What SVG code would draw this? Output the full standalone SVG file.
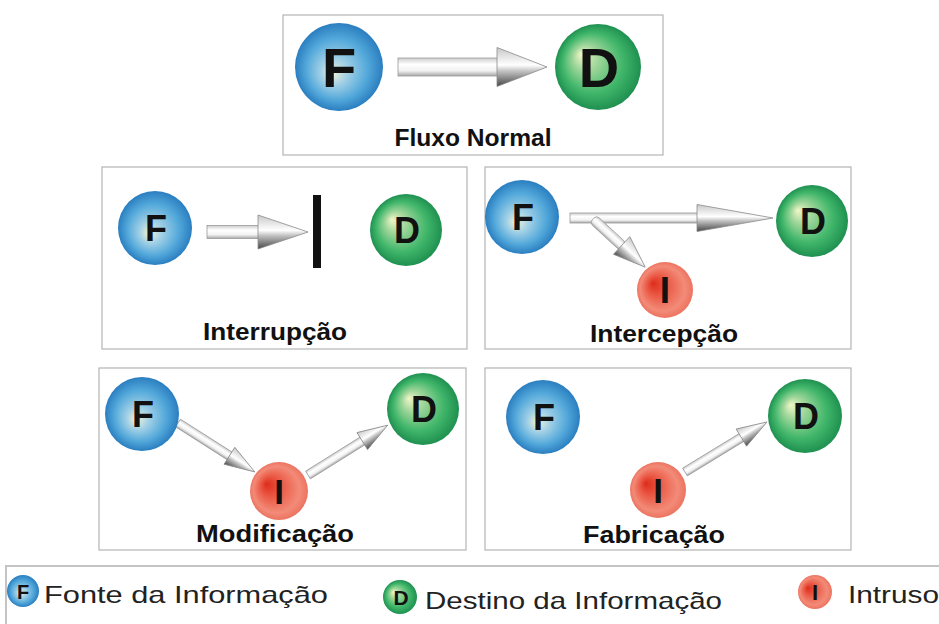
<svg xmlns="http://www.w3.org/2000/svg" width="939" height="624" viewBox="0 0 939 624">
<defs>
<radialGradient id="gBlue" cx="0.5" cy="0.5" r="0.5" fx="0.42" fy="0.58">
<stop offset="0" stop-color="#f2f2d6"/>
<stop offset="0.3" stop-color="#a2d0e6"/>
<stop offset="0.7" stop-color="#52a8da"/>
<stop offset="1" stop-color="#2a7ec0"/>
</radialGradient>
<radialGradient id="gGreen" cx="0.5" cy="0.5" r="0.5" fx="0.3" fy="0.35">
<stop offset="0" stop-color="#f0f5c8"/>
<stop offset="0.3" stop-color="#9fd69a"/>
<stop offset="0.7" stop-color="#40b66a"/>
<stop offset="1" stop-color="#1f9050"/>
</radialGradient>
<radialGradient id="gRed" cx="0.5" cy="0.5" r="0.5" fx="0.28" fy="0.38">
<stop offset="0" stop-color="#de2c1c"/>
<stop offset="0.35" stop-color="#ea5844"/>
<stop offset="0.8" stop-color="#f28b78"/>
<stop offset="1" stop-color="#ec7360"/>
</radialGradient>
<linearGradient id="gShaft" x1="0" y1="0" x2="0" y2="1">
<stop offset="0" stop-color="#cdcdcd"/>
<stop offset="0.35" stop-color="#ffffff"/>
<stop offset="0.7" stop-color="#f2f2f2"/>
<stop offset="1" stop-color="#a8a8a8"/>
</linearGradient>
<linearGradient id="gHead" x1="0" y1="0" x2="0" y2="1">
<stop offset="0" stop-color="#c8c8c8"/>
<stop offset="0.45" stop-color="#ffffff"/>
<stop offset="0.6" stop-color="#c4c4c4"/>
<stop offset="1" stop-color="#474747"/>
</linearGradient>
<style>
.panel{fill:#ffffff;stroke:#b4b4b4;stroke-width:1.2}
.lbl{font-family:"Liberation Sans",Arial,sans-serif;font-weight:bold;font-size:23px;fill:#111;text-anchor:middle}
.leg{font-family:"Liberation Sans",Arial,sans-serif;font-size:24px;fill:#222}
.ltr{font-family:"Liberation Sans",Arial,sans-serif;font-weight:bold;fill:#111;text-anchor:middle}
.sh{fill:url(#gShaft);stroke:#9a9a9a;stroke-width:0.8}
.hd{fill:url(#gHead);stroke:#8a8a8a;stroke-width:0.8}
.f{fill:url(#gBlue)}
.d{fill:url(#gGreen)}
.i{fill:url(#gRed)}
</style>
</defs>
<rect width="939" height="624" fill="#ffffff"/>

<g id="panel-fluxo-normal">
<rect class="panel" x="283" y="15" width="380" height="140"/>
<text class="lbl" x="473" y="146" textLength="157" lengthAdjust="spacingAndGlyphs">Fluxo Normal</text>
</g>
<g id="panel-interrupcao">
<rect class="panel" x="102" y="167" width="365" height="182"/>
<text class="lbl" x="275" y="340" textLength="144" lengthAdjust="spacingAndGlyphs">Interrupção</text>
</g>
<g id="panel-intercepcao">
<rect class="panel" x="485" y="167" width="366" height="182"/>
<text class="lbl" x="664" y="342" textLength="148" lengthAdjust="spacingAndGlyphs">Intercepção</text>
</g>
<g id="panel-modificacao">
<rect class="panel" x="99" y="368" width="367" height="182"/>
<text class="lbl" x="275" y="542" textLength="158" lengthAdjust="spacingAndGlyphs">Modificação</text>
</g>
<g id="panel-fabricacao">
<rect class="panel" x="485" y="368" width="366" height="182"/>
<text class="lbl" x="654" y="543" textLength="142" lengthAdjust="spacingAndGlyphs">Fabricação</text>
</g>

<g id="connectors">
<g transform="translate(398,67)">
<rect class="sh" x="0" y="-9" width="101" height="18"/>
<path class="hd" d="M99,-19.5 L149,0 L99,19.5 Z"/>
</g>
<g transform="translate(207,232)">
<rect class="sh" x="0" y="-6.5" width="53" height="13"/>
<path class="hd" d="M51,-17 L101,0 L51,17 Z"/>
</g>
<rect id="block-bar" x="313" y="195" width="8" height="73" fill="#111"/>
<g transform="translate(570,218)">
<rect class="sh" x="0" y="-5" width="129" height="10"/>
<path class="hd" d="M127,-13.5 L203,0 L127,13.5 Z"/>
</g>
<g transform="translate(593,219) rotate(42.7)">
<rect class="sh" x="0" y="-5" width="41" height="10" rx="4"/>
<path class="hd" d="M39,-12 L71,0 L39,12 Z"/>
</g>
<g transform="translate(178,423) rotate(32.5)">
<rect class="sh" x="0" y="-4.5" width="63" height="9"/>
<path class="hd" d="M61,-10 L91,0 L61,10 Z"/>
</g>
<g transform="translate(308,475) rotate(-32)">
<rect class="sh" x="0" y="-4.5" width="66" height="9"/>
<path class="hd" d="M64,-10 L94,0 L64,10 Z"/>
</g>
<g transform="translate(685,472) rotate(-31.4)">
<rect class="sh" x="0" y="-4.5" width="68" height="9"/>
<path class="hd" d="M66,-10 L96,0 L66,10 Z"/>
</g>
</g>

<g id="fn-F">
<circle class="f" cx="339" cy="67" r="44"/>
<text class="ltr" x="339" y="87" font-size="56">F</text>
</g>
<g id="fn-D">
<circle class="d" cx="598" cy="67" r="43"/>
<text class="ltr" x="599" y="87" font-size="56">D</text>
</g>

<g id="int-F">
<circle class="f" cx="155" cy="228" r="37"/>
<text class="ltr" x="156" y="241" font-size="36">F</text>
</g>
<g id="int-D">
<circle class="d" cx="406" cy="230" r="36"/>
<text class="ltr" x="407" y="243" font-size="36">D</text>
</g>

<g id="icp-F">
<circle class="f" cx="522" cy="217" r="37"/>
<text class="ltr" x="523" y="230" font-size="36">F</text>
</g>
<g id="icp-D">
<circle class="d" cx="812" cy="221" r="36"/>
<text class="ltr" x="813" y="234" font-size="36">D</text>
</g>
<g id="icp-I">
<circle class="i" cx="665" cy="290" r="28"/>
<text class="ltr" x="665" y="303" font-size="37">I</text>
</g>

<g id="mod-F">
<circle class="f" cx="142" cy="414" r="37"/>
<text class="ltr" x="143" y="427" font-size="36">F</text>
</g>
<g id="mod-D">
<circle class="d" cx="423" cy="409" r="36"/>
<text class="ltr" x="424" y="422" font-size="36">D</text>
</g>
<g id="mod-I">
<circle class="i" cx="279" cy="491" r="29"/>
<text class="ltr" x="279" y="504" font-size="35">I</text>
</g>

<g id="fab-F">
<circle class="f" cx="543" cy="417" r="37"/>
<text class="ltr" x="544" y="430" font-size="36">F</text>
</g>
<g id="fab-D">
<circle class="d" cx="805" cy="416" r="37"/>
<text class="ltr" x="806" y="429" font-size="36">D</text>
</g>
<g id="fab-I">
<circle class="i" cx="658" cy="490" r="28"/>
<text class="ltr" x="658" y="503" font-size="35">I</text>
</g>

<g id="legend">
<rect x="6" y="566" width="960" height="80" fill="none" stroke="#c4c4c4" stroke-width="2"/>
<g id="leg-F">
<circle class="f" cx="23" cy="591" r="16"/>
<text class="ltr" x="23" y="598.5" font-size="20">F</text>
<text class="leg" x="44" y="603" textLength="284" lengthAdjust="spacingAndGlyphs">Fonte da Informação</text>
</g>
<g id="leg-D">
<circle class="d" cx="400" cy="597" r="17"/>
<text class="ltr" x="401" y="604.5" font-size="21">D</text>
<text class="leg" x="425" y="609" textLength="297" lengthAdjust="spacingAndGlyphs">Destino da Informação</text>
</g>
<g id="leg-I">
<circle class="i" cx="815" cy="592" r="17"/>
<text class="ltr" x="815" y="600" font-size="22">I</text>
<text class="leg" x="848" y="603" textLength="91" lengthAdjust="spacingAndGlyphs">Intruso</text>
</g>
</g>
</svg>
